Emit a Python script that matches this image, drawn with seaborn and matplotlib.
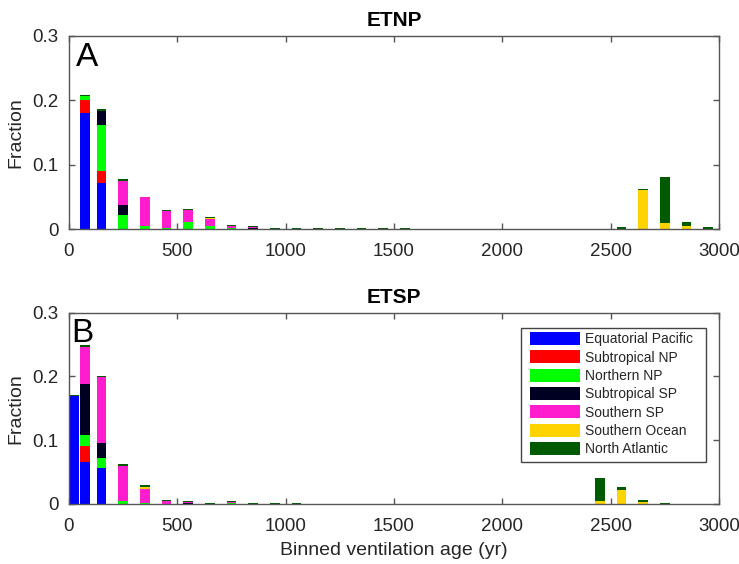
import numpy as np
import matplotlib
matplotlib.use("Agg")
import matplotlib.pyplot as plt
from matplotlib.patches import Patch, Rectangle
import seaborn as sns

# ---------------- data ----------------
age_bins = [25, 75, 150, 250, 350, 450, 550, 650, 750, 850, 950, 1050, 1150, 1250,
            1350, 1450, 1550, 1650, 1750, 1850, 1950, 2050, 2150, 2250, 2350, 2450,
            2550, 2650, 2750, 2850, 2950]

regions = ["Equatorial Pacific", "Subtropical NP", "Northern NP", "Subtropical SP",
           "Southern SP", "Southern Ocean", "North Atlantic"]
region_colors = ["#0000ff", "#ff0000", "#00ff00", "#000022", "#ff1dce", "#ffd300", "#005a00"]

# ETNP (panel A)
etnp_eq_pac = [0, .181, .072, 0, 0, 0, 0, 0, 0, 0, 0, 0, 0, 0, 0, 0, 0, 0, 0, 0, 0, 0, 0, 0, 0, 0, 0, 0, 0, 0, 0]
etnp_sub_np = [0, .019, .018, 0, 0, 0, 0, 0, 0, 0, 0, 0, 0, 0, 0, 0, 0, 0, 0, 0, 0, 0, 0, 0, 0, 0, 0, 0, 0, 0, 0]
etnp_nor_np = [0, .007, .071, .022, .005, .001, .011, .004, .001, 0, 0, 0, 0, 0, 0, 0, 0, 0, 0, 0, 0, 0, 0, 0, 0, 0, 0, 0, 0, 0, 0]
etnp_sub_sp = [0, 0, .023, .016, 0, 0, 0, 0, 0, .001, 0, 0, 0, 0, 0, 0, 0, 0, 0, 0, 0, 0, 0, 0, 0, 0, 0, 0, 0, 0, 0]
etnp_sou_sp = [0, 0, 0, .037, .044, .027, .018, .012, .003, .002, 0, 0, 0, 0, 0, 0, 0, 0, 0, 0, 0, 0, 0, 0, 0, 0, 0, 0, 0, 0, 0]
etnp_sou_oc = [0, 0, 0, 0, 0, 0, 0, .001, 0, 0, 0, 0, 0, 0, 0, 0, 0, 0, 0, 0, 0, 0, 0, 0, 0, 0, 0, .060, .009, .004, 0]
etnp_nor_at = [0, .002, .002, .002, .001, .001, .002, .002, .002, .001, .002, .001, .001, .001, .001, .001, .001, 0, 0, 0, 0, 0, 0, 0, 0, .0005, .0026, .002, .072, .007, .003]

# ETSP (panel B)
etsp_eq_pac = [.169, .0655, .056, 0, 0, 0, 0, 0, 0, 0, 0, 0, 0, 0, 0, 0, 0, 0, 0, 0, 0, 0, 0, 0, 0, 0, 0, 0, 0, 0, 0]
etsp_sub_np = [0, .026, 0, 0, 0, 0, 0, 0, 0, 0, 0, 0, 0, 0, 0, 0, 0, 0, 0, 0, 0, 0, 0, 0, 0, 0, 0, 0, 0, 0, 0]
etsp_nor_np = [0, .017, .016, .005, .001, 0, 0, 0, .001, 0, 0, 0, 0, 0, 0, 0, 0, 0, 0, 0, 0, 0, 0, 0, 0, 0, 0, 0, 0, 0, 0]
etsp_sub_sp = [0, .080, .023, 0, 0, 0, .001, 0, 0, 0, 0, 0, 0, 0, 0, 0, 0, 0, 0, 0, 0, 0, 0, 0, 0, 0, 0, 0, 0, 0, 0]
etsp_sou_sp = [0, .058, .104, .055, .023, .005, .002, 0, .002, 0, 0, 0, 0, 0, 0, 0, 0, 0, 0, 0, 0, 0, 0, 0, 0, 0, 0, 0, 0, 0, 0]
etsp_sou_oc = [0, 0, 0, 0, .003, 0, 0, 0, 0, 0, 0, 0, 0, 0, 0, 0, 0, 0, 0, 0, 0, 0, 0, 0, 0, .004, .022, .003, 0, 0, 0]
etsp_nor_at = [.0015, .002, .002, .002, .003, .002, .001, .002, .002, .002, .002, .001, 0, 0, 0, 0, 0, 0, 0, 0, 0, 0, 0, 0, 0, .037, .005, .003, .001, 0, 0]

x_ticks = [0, 500, 1000, 1500, 2000, 2500, 3000]
y_ticks = [0, 0.1, 0.2, 0.3]
y_tick_labels = ["0", "0.1", "0.2", "0.3"]

# ---------------- style ----------------
sns.set_theme(style="ticks")
plt.rcParams["font.family"] = ["Liberation Sans", "DejaVu Sans"]
spine_col = "#555555"
text_col = "#262626"
plt.rcParams.update({
    "xtick.direction": "in", "ytick.direction": "in",
    "xtick.top": True, "ytick.right": True,
    "xtick.color": spine_col, "ytick.color": spine_col,
    "xtick.labelcolor": text_col, "ytick.labelcolor": text_col,
    "axes.edgecolor": spine_col, "axes.linewidth": 1.0,
})

fig = plt.figure(figsize=(7.39, 5.64), dpi=100)
W, H = 739, 564
ax_a = fig.add_axes([69 / W, 1 - 229 / H, 650 / W, 193 / H])
ax_b = fig.add_axes([69 / W, 1 - 504 / H, 650 / W, 191.5 / H])


def draw_panel(ax, layers, title, letter, letter_x):
    arr = np.array(layers, dtype=float)
    cum = np.cumsum(arr, axis=0)
    # draw from the full stack down so lower layers overlay upper ones
    for i in range(len(layers) - 1, -1, -1):
        sns.barplot(x=age_bins, y=cum[i], color=region_colors[i], native_scale=True,
                    errorbar=None, width=0.9, saturation=1, linewidth=0, ax=ax)
    ax.set_xlim(0, 3000)
    ax.set_ylim(0, 0.3)
    ax.set_xticks(x_ticks)
    ax.set_xticklabels([str(t) for t in x_ticks])
    ax.set_yticks(y_ticks)
    ax.set_yticklabels(y_tick_labels)
    ax.tick_params(axis="x", length=4, width=1, pad=10, labelsize=13.5)
    ax.tick_params(axis="y", length=4, width=1, pad=7.5, labelsize=13.5)
    for s in ax.spines.values():
        s.set_visible(True)
        s.set_color(spine_col)
    ax.set_title(title, fontsize=15, fontweight="bold", pad=7, color="black")
    ax.set_ylabel("Fraction", fontsize=14, color=text_col, labelpad=6)
    ax.set_xlabel("")
    ax.text(letter_x, 0.846, letter, transform=ax.transAxes, fontsize=24,
            va="baseline", ha="left", color="black")


draw_panel(ax_a, [etnp_eq_pac, etnp_sub_np, etnp_nor_np, etnp_sub_sp,
                  etnp_sou_sp, etnp_sou_oc, etnp_nor_at], "ETNP", "A", 0.011)
draw_panel(ax_b, [etsp_eq_pac, etsp_sub_np, etsp_nor_np, etsp_sub_sp,
                  etsp_sou_sp, etsp_sou_oc, etsp_nor_at], "ETSP", "B", 0.004)
ax_b.set_xlabel("Binned ventilation age (yr)", fontsize=14, color=text_col, labelpad=5)

# legend frame (MATLAB-like asymmetric padding)
frame = Rectangle((0.695, 0.219), 0.285, 0.702, transform=ax_b.transAxes,
                  facecolor="white", edgecolor="#444444", linewidth=1.0, zorder=4)
ax_b.add_patch(frame)
handles = [Patch(facecolor=c, edgecolor="none", label=r) for c, r in zip(region_colors, regions)]
leg = ax_b.legend(handles=handles, loc="upper left", bbox_to_anchor=(0.709, 0.898),
                  borderaxespad=0, fontsize=10, handlelength=3.6, handleheight=1.05,
                  labelspacing=0.30, handletextpad=0.4, borderpad=0.0,
                  frameon=False)
leg.set_zorder(5)
for t in leg.get_texts():
    t.set_color(text_col)

fig.savefig("out.png", dpi=100)
